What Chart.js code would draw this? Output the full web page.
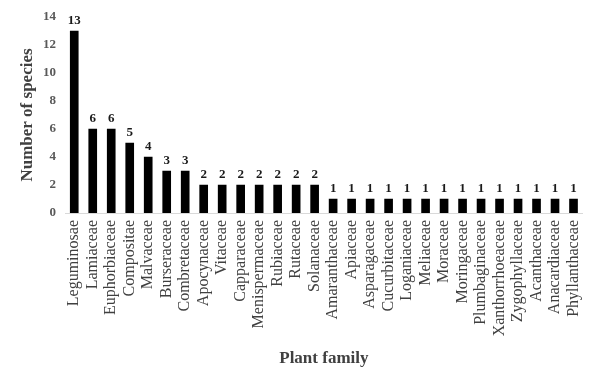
<!DOCTYPE html>
<html>
<head>
<meta charset="utf-8">
<script src="https://cdn.jsdelivr.net/npm/chart.js@4/dist/chart.umd.min.js"></script>
<style>
  html, body { margin: 0; padding: 0; background: #fff; }
  #wrap { width: 600px; height: 386px; }
</style>
</head>
<body>
<div id="wrap"><canvas id="chart"></canvas></div>
<script>
// Plant families and number of species
const families = [
  "Leguminosae", "Lamiaceae", "Euphorbiaceae", "Compositae", "Malvaceae",
  "Burseraceae", "Combretaceae", "Apocynaceae", "Vitaceae", "Capparaceae",
  "Menispermaceae", "Rubiaceae", "Rutaceae", "Solanaceae", "Amaranthaceae",
  "Apiaceae", "Asparagaceae", "Cucurbitaceae", "Loganiaceae", "Meliaceae",
  "Moraceae", "Moringaceae", "Plumbaginaceae", "Xanthorrhoeaceae",
  "Zygophyllaceae", "Acanthaceae", "Anacardiaceae", "Phyllanthaceae"
];
const speciesCount = [13, 6, 6, 5, 4, 3, 3, 2, 2, 2, 2, 2, 2, 2,
  1, 1, 1, 1, 1, 1, 1, 1, 1, 1, 1, 1, 1, 1];
const yTicks = [0, 2, 4, 6, 8, 10, 12, 14];

const serif = "'Liberation Serif', 'Times New Roman', serif";

// Value labels above bars
const barLabels = {
  id: "barLabels",
  afterDatasetsDraw(chart) {
    const ctx = chart.ctx;
    const meta = chart.getDatasetMeta(0);
    ctx.save();
    ctx.font = "bold 13px " + serif;
    ctx.fillStyle = "#1a1a1a";
    ctx.textAlign = "center";
    ctx.textBaseline = "bottom";
    meta.data.forEach((bar, i) => {
      ctx.fillText(String(speciesCount[i]), bar.x, bar.y - 4);
    });
    ctx.restore();
  }
};

new Chart(document.getElementById("chart"), {
  type: "bar",
  data: {
    labels: families,
    datasets: [{
      data: speciesCount,
      backgroundColor: "#000",
      barThickness: 8
    }]
  },
  options: {
    responsive: true,
    maintainAspectRatio: false,
    animation: false,
    layout: { padding: { top: 17, right: 16, left: 0, bottom: 0 } },
    plugins: {
      legend: { display: false },
      tooltip: { enabled: false }
    },
    scales: {
      x: {
        grid: { display: false, drawTicks: false },
        border: { display: true, color: "#d9d9d9", width: 1 },
        ticks: {
          autoSkip: false,
          minRotation: 90,
          maxRotation: 90,
          padding: 7,
          color: "#404040",
          font: { family: serif, size: 16 }
        },
        title: {
          display: true,
          text: "Plant family",
          color: "#404040",
          font: { family: serif, size: 17, weight: "bold" },
          padding: { top: 0, bottom: 17 }
        },
        afterFit(scale) { scale.height = 173; }
      },
      y: {
        min: 0,
        max: 14,
        grid: { display: false, drawTicks: false },
        border: { display: false },
        afterBuildTicks(scale) { scale.ticks = yTicks.map(v => ({ value: v })); },
        ticks: {
          padding: 9,
          color: "#595959",
          font: { family: serif, size: 13, weight: "bold" }
        },
        title: {
          display: true,
          text: "Number of species",
          color: "#404040",
          font: { family: serif, size: 17, weight: "bold" },
          padding: { top: 17, bottom: 0 }
        },
        afterFit(scale) { scale.width = 65; }
      }
    }
  },
  plugins: [barLabels]
});
</script>
</body>
</html>
